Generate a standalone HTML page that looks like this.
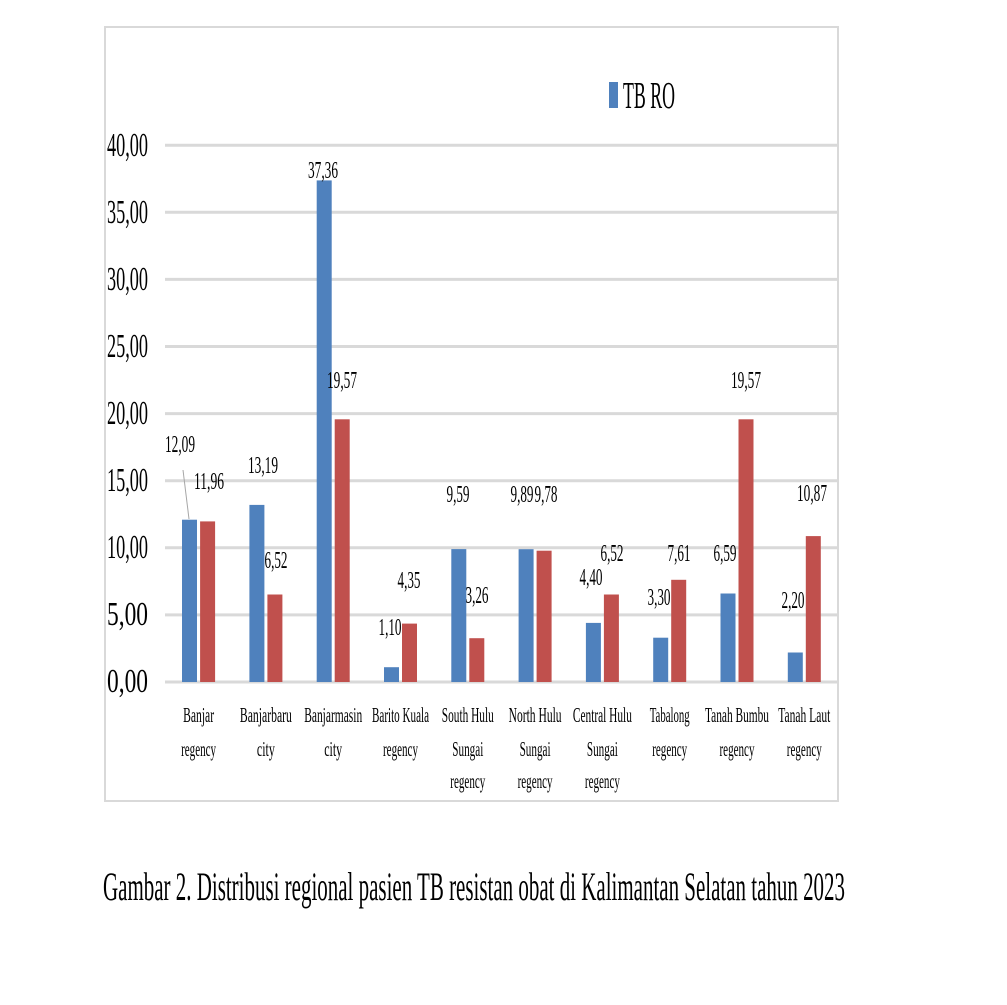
<!DOCTYPE html>
<html><head><meta charset="utf-8"><style>
html,body{margin:0;padding:0;background:#fff;}
svg text{font-family:"Liberation Serif",serif;fill:#000;}
</style></head><body>
<svg width="1007" height="1000" viewBox="0 0 1007 1000" xmlns="http://www.w3.org/2000/svg">
<rect x="105" y="27" width="733" height="774" fill="#fff" stroke="#d9d9d9" stroke-width="2"/>
<g stroke="#d9d9d9" stroke-width="3">
<line x1="165" x2="838" y1="682" y2="682"/>
<line x1="165" x2="838" y1="614.9" y2="614.9"/>
<line x1="165" x2="838" y1="547.8" y2="547.8"/>
<line x1="165" x2="838" y1="480.7" y2="480.7"/>
<line x1="165" x2="838" y1="413.6" y2="413.6"/>
<line x1="165" x2="838" y1="346.5" y2="346.5"/>
<line x1="165" x2="838" y1="279.4" y2="279.4"/>
<line x1="165" x2="838" y1="212.3" y2="212.3"/>
<line x1="165" x2="838" y1="145.2" y2="145.2"/>
</g>
<g font-size="34" text-anchor="end">
<text x="148" y="692" textLength="41" lengthAdjust="spacingAndGlyphs">0,00</text>
<text x="148" y="625" textLength="41" lengthAdjust="spacingAndGlyphs">5,00</text>
<text x="148" y="558" textLength="41" lengthAdjust="spacingAndGlyphs">10,00</text>
<text x="148" y="491" textLength="41" lengthAdjust="spacingAndGlyphs">15,00</text>
<text x="148" y="424" textLength="41" lengthAdjust="spacingAndGlyphs">20,00</text>
<text x="148" y="357" textLength="41" lengthAdjust="spacingAndGlyphs">25,00</text>
<text x="148" y="290" textLength="41" lengthAdjust="spacingAndGlyphs">30,00</text>
<text x="148" y="223" textLength="41" lengthAdjust="spacingAndGlyphs">35,00</text>
<text x="148" y="156" textLength="41" lengthAdjust="spacingAndGlyphs">40,00</text>
</g>
<g fill="#4f81bd">
<rect x="182" y="519.7" width="15" height="162.3"/>
<rect x="249.4" y="504.9" width="15" height="177.1"/>
<rect x="316.7" y="180.4" width="15" height="501.6"/>
<rect x="384" y="667.2" width="15" height="14.8"/>
<rect x="451.3" y="549.1" width="15" height="132.9"/>
<rect x="518.6" y="549.2" width="15" height="132.8"/>
<rect x="585.9" y="622.9" width="15" height="59.1"/>
<rect x="653.2" y="637.7" width="15" height="44.3"/>
<rect x="720.5" y="593.5" width="15" height="88.5"/>
<rect x="787.8" y="652.5" width="15" height="29.5"/>
</g>
<g fill="#c0504d">
<rect x="200.1" y="521.4" width="15" height="160.6"/>
<rect x="267.4" y="594.5" width="15" height="87.5"/>
<rect x="334.7" y="419.3" width="15" height="262.7"/>
<rect x="402" y="623.6" width="15" height="58.4"/>
<rect x="469.3" y="638.2" width="15" height="43.8"/>
<rect x="536.6" y="550.7" width="15" height="131.3"/>
<rect x="603.9" y="594.5" width="15" height="87.5"/>
<rect x="671.2" y="579.8" width="15" height="102.2"/>
<rect x="738.5" y="419.3" width="15" height="262.7"/>
<rect x="805.8" y="536.1" width="15" height="145.9"/>
</g>
<line x1="183" y1="470" x2="189" y2="519" stroke="#a6a6a6" stroke-width="1"/>
<g font-size="24" text-anchor="middle">
<text x="180" y="452" textLength="30" lengthAdjust="spacingAndGlyphs">12,09</text>
<text x="209" y="489" textLength="30" lengthAdjust="spacingAndGlyphs">11,96</text>
<text x="263" y="473" textLength="30" lengthAdjust="spacingAndGlyphs">13,19</text>
<text x="276" y="568" textLength="23" lengthAdjust="spacingAndGlyphs">6,52</text>
<text x="323" y="178" textLength="30" lengthAdjust="spacingAndGlyphs">37,36</text>
<text x="342" y="388" textLength="30" lengthAdjust="spacingAndGlyphs">19,57</text>
<text x="390" y="635" textLength="23" lengthAdjust="spacingAndGlyphs">1,10</text>
<text x="409" y="588" textLength="23" lengthAdjust="spacingAndGlyphs">4,35</text>
<text x="458" y="502" textLength="23" lengthAdjust="spacingAndGlyphs">9,59</text>
<text x="477" y="603" textLength="23" lengthAdjust="spacingAndGlyphs">3,26</text>
<text x="522" y="502" textLength="23" lengthAdjust="spacingAndGlyphs">9,89</text>
<text x="546" y="502" textLength="23" lengthAdjust="spacingAndGlyphs">9,78</text>
<text x="591" y="585" textLength="23" lengthAdjust="spacingAndGlyphs">4,40</text>
<text x="612" y="561" textLength="23" lengthAdjust="spacingAndGlyphs">6,52</text>
<text x="659" y="605" textLength="23" lengthAdjust="spacingAndGlyphs">3,30</text>
<text x="679" y="561" textLength="23" lengthAdjust="spacingAndGlyphs">7,61</text>
<text x="725" y="561" textLength="23" lengthAdjust="spacingAndGlyphs">6,59</text>
<text x="746" y="388" textLength="30" lengthAdjust="spacingAndGlyphs">19,57</text>
<text x="793" y="608" textLength="23" lengthAdjust="spacingAndGlyphs">2,20</text>
<text x="812" y="501" textLength="30" lengthAdjust="spacingAndGlyphs">10,87</text>
</g>
<g font-size="21" text-anchor="middle">
<text x="198.6" y="722" textLength="31" lengthAdjust="spacingAndGlyphs">Banjar</text>
<text x="198.6" y="756" textLength="35" lengthAdjust="spacingAndGlyphs">regency</text>
<text x="265.9" y="722" textLength="52" lengthAdjust="spacingAndGlyphs">Banjarbaru</text>
<text x="265.9" y="756" textLength="18" lengthAdjust="spacingAndGlyphs">city</text>
<text x="333.2" y="722" textLength="58" lengthAdjust="spacingAndGlyphs">Banjarmasin</text>
<text x="333.2" y="756" textLength="18" lengthAdjust="spacingAndGlyphs">city</text>
<text x="400.5" y="722" textLength="57" lengthAdjust="spacingAndGlyphs">Barito Kuala</text>
<text x="400.5" y="756" textLength="35" lengthAdjust="spacingAndGlyphs">regency</text>
<text x="467.8" y="722" textLength="52" lengthAdjust="spacingAndGlyphs">South Hulu</text>
<text x="467.8" y="756" textLength="31" lengthAdjust="spacingAndGlyphs">Sungai</text>
<text x="467.8" y="788" textLength="35" lengthAdjust="spacingAndGlyphs">regency</text>
<text x="535.1" y="722" textLength="53" lengthAdjust="spacingAndGlyphs">North Hulu</text>
<text x="535.1" y="756" textLength="31" lengthAdjust="spacingAndGlyphs">Sungai</text>
<text x="535.1" y="788" textLength="35" lengthAdjust="spacingAndGlyphs">regency</text>
<text x="602.4" y="722" textLength="59" lengthAdjust="spacingAndGlyphs">Central Hulu</text>
<text x="602.4" y="756" textLength="31" lengthAdjust="spacingAndGlyphs">Sungai</text>
<text x="602.4" y="788" textLength="35" lengthAdjust="spacingAndGlyphs">regency</text>
<text x="669.7" y="722" textLength="40" lengthAdjust="spacingAndGlyphs">Tabalong</text>
<text x="669.7" y="756" textLength="35" lengthAdjust="spacingAndGlyphs">regency</text>
<text x="737" y="722" textLength="64" lengthAdjust="spacingAndGlyphs">Tanah Bumbu</text>
<text x="737" y="756" textLength="35" lengthAdjust="spacingAndGlyphs">regency</text>
<text x="804.3" y="722" textLength="52" lengthAdjust="spacingAndGlyphs">Tanah Laut</text>
<text x="804.3" y="756" textLength="35" lengthAdjust="spacingAndGlyphs">regency</text>
</g>
<rect x="609" y="82" width="9" height="26" fill="#4f81bd"/>
<text x="623" y="108" font-size="38" textLength="52" lengthAdjust="spacingAndGlyphs">TB RO</text>
<text x="103" y="900" font-size="40" textLength="742" lengthAdjust="spacingAndGlyphs">Gambar 2. Distribusi regional pasien TB resistan obat di Kalimantan Selatan tahun 2023</text>
</svg>
</body></html>
